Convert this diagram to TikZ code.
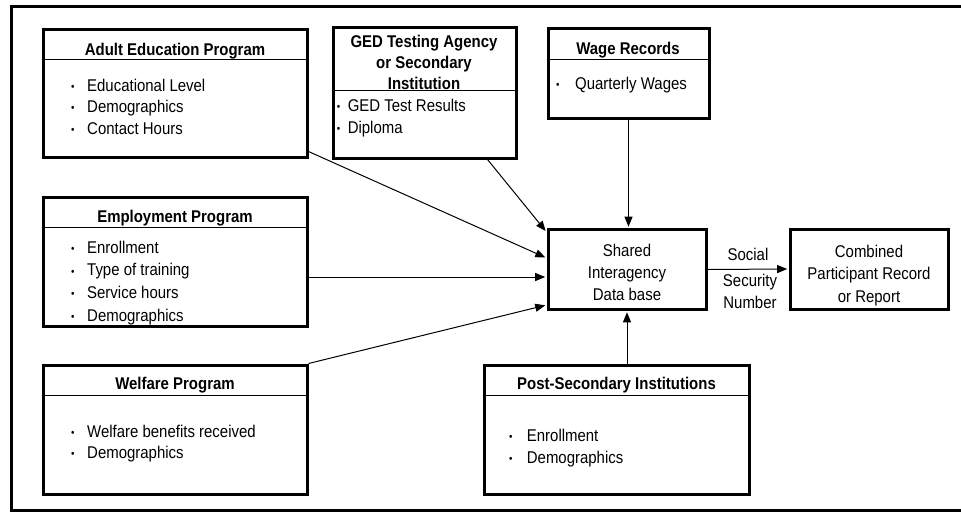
\documentclass[tikz,border=0pt]{standalone}
\usepackage{fontspec}
\setmainfont{Liberation Sans}[FakeStretch=0.88]
\usetikzlibrary{arrows.meta,calc}
\newcommand\bitem[1]{\makebox[#1][l]{\raisebox{0.6pt}{\fontsize{11}{11}\selectfont •}}}
\begin{document}
\begin{tikzpicture}[x=1pt,y=-1pt,
  box/.style={draw, line width=3pt, inner sep=0pt},
  hdr/.style={line width=1pt},
  conn/.style={line width=1pt, -{Triangle[length=10pt,width=8pt]}, shorten >=1.3pt},
  ttl/.style={font=\fontsize{17}{21}\selectfont\bfseries, inner sep=0pt, anchor=base},
  txt/.style={inner sep=0pt, anchor=base},
  lst/.style={inner sep=0pt, anchor=base west},
]
\useasboundingbox (0,0) rectangle (961,512);
\draw[line width=3pt] (961,6.5) -- (11.5,6.5) -- (11.5,510.5) -- (961,510.5);

% boxes
\node[box, minimum width=264pt, minimum height=128pt] (ae) at (175,93) {};
\node[box, minimum width=183pt, minimum height=131pt] (ged) at (424.5,92.5) {};
\node[box, minimum width=161pt, minimum height=90pt] (wr) at (628.5,73) {};
\node[box, minimum width=264pt, minimum height=129pt] (ep) at (175,261.5) {};
\node[box, minimum width=264pt, minimum height=129pt] (wp) at (175,429.5) {};
\node[box, minimum width=265pt, minimum height=129pt] (ps) at (616.5,429.5) {};
\node[box, minimum width=158pt, minimum height=80pt] (sd) at (627,269.5) {};
\node[box, minimum width=158pt, minimum height=80pt] (cb) at (869,269) {};

% header separators
\draw[hdr] ($(ae.north west)+(0,32)$) -- ($(ae.north east)+(0,32)$);
\draw[hdr] ($(ged.north west)+(0,65)$) -- ($(ged.north east)+(0,65)$);
\draw[hdr] ($(wr.north west)+(0,33)$) -- ($(wr.north east)+(0,33)$);
\draw[hdr] ($(ep.north west)+(0,32)$) -- ($(ep.north east)+(0,32)$);
\draw[hdr] ($(wp.north west)+(0,32)$) -- ($(wp.north east)+(0,32)$);
\draw[hdr] ($(ps.north west)+(0,32)$) -- ($(ps.north east)+(0,32)$);

% titles
\node[ttl] (aet) at (175,55) {Adult Education Program};
\node[ttl] (gedt) at (424,47) {\begin{tabular}[t]{@{}c@{}}GED Testing Agency\\or Secondary\\Institution\end{tabular}};
\node[ttl] (wrt) at (628,54) {Wage Records};
\node[ttl] (ept) at (175,222) {Employment Program};
\node[ttl] (wpt) at (175,389) {Welfare Program};
\node[ttl] (pst) at (616.5,389) {Post-Secondary Institutions};

% lists
\node[lst, font=\fontsize{17}{21.5}\selectfont] (ael) at (71,91) {\begin{tabular}[t]{@{}l@{}}\bitem{16pt}Educational Level\\\bitem{16pt}Demographics\\\bitem{16pt}Contact Hours\end{tabular}};
\node[lst, font=\fontsize{17}{22}\selectfont] (gedl) at (336.6,111) {\begin{tabular}[t]{@{}l@{}}\bitem{11pt}GED Test Results\\\bitem{11pt}Diploma\end{tabular}};
\node[lst, font=\fontsize{17}{22}\selectfont] (wrl) at (556,89) {\bitem{19pt}Quarterly Wages};
\node[lst, font=\fontsize{17}{22.7}\selectfont] (epl) at (71,253) {\begin{tabular}[t]{@{}l@{}}\bitem{16pt}Enrollment\\\bitem{16pt}Type of training\\\bitem{16pt}Service hours\\\bitem{16pt}Demographics\end{tabular}};
\node[lst, font=\fontsize{17}{21.5}\selectfont] (wpl) at (71,437) {\begin{tabular}[t]{@{}l@{}}\bitem{16pt}Welfare benefits received\\\bitem{16pt}Demographics\end{tabular}};
\node[lst, font=\fontsize{17}{22}\selectfont] (psl) at (509,441) {\begin{tabular}[t]{@{}l@{}}\bitem{17.7pt}Enrollment\\\bitem{17.7pt}Demographics\end{tabular}};

% centre texts
\node[txt, font=\fontsize{17}{22}\selectfont] (sdt) at (627,256) {\begin{tabular}[t]{@{}c@{}}Shared\\Interagency\\Data base\end{tabular}};
\node[txt, font=\fontsize{17}{22.5}\selectfont] (cbt) at (869,257) {\begin{tabular}[t]{@{}c@{}}Combined\\Participant Record\\or Report\end{tabular}};
\node[txt, font=\fontsize{17}{22}\selectfont] (ssn1) at (748,260) {Social};
\node[txt, font=\fontsize{17}{22}\selectfont] (ssn2) at (750,286) {\begin{tabular}[t]{@{}c@{}}Security\\Number\end{tabular}};

% connectors
\coordinate (sdep) at ($(sd.west)+(0,7.5)$);
\draw[conn] ($(ged.south east)+(-30,0)$) -- ($(sd.north west)+(0,4)$);
\draw[conn] ($(ae.south east)+(0,-7)$) -- ($(sd.north west)+(0,30)$);
\draw[conn] (ep.east |- sdep) -- (sdep);
\draw[conn] (wp.north east) -- ($(sd.south west)+(0,-6)$);
\draw[conn] (wr.south) -- (wr.south |- sd.north);
\draw[conn] (ps.north -| sd.south) -- (sd.south);
\draw[conn] (sd.east) -- (cb.west);
\end{tikzpicture}
\end{document}
